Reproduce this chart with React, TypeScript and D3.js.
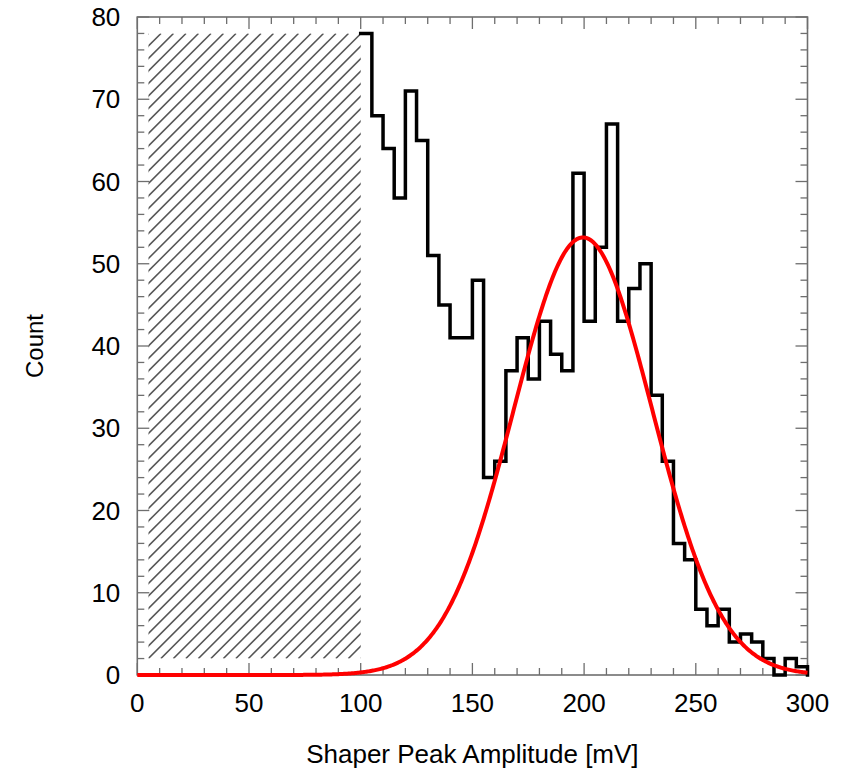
import React from "react";
import * as d3 from "d3";

// ---- data ----
const binEdgesStart = 100;
const binWidth = 5;
const binCounts = [
  78, 68, 64, 58, 71, 65, 51, 45, 41, 41,
  48, 24, 26, 37, 41, 36, 43, 39, 37, 61,
  43, 52, 67, 43, 47, 50, 34, 26, 16, 14,
  8, 6, 8, 4, 5, 4, 2, 0, 2, 1,
];
const fitAmplitude = 53.2;
const fitMean = 199.5;
const fitSigma = 31;
const xTicks = [0, 50, 100, 150, 200, 250, 300];
const yTicks = [0, 10, 20, 30, 40, 50, 60, 70, 80];
const hatchX = [5, 100];
const hatchY = [2, 78];

const W = 841;
const H = 770;
const margin = { left: 137.3, right: 841 - 807.5, top: 17, bottom: 770 - 675 };

export default function App() {
  const x = d3.scaleLinear().domain([0, 300]).range([margin.left, W - margin.right]);
  const y = d3.scaleLinear().domain([0, 80]).range([H - margin.bottom, margin.top]);

  // histogram step path
  const pts: [number, number][] = [];
  binCounts.forEach((c, i) => {
    const x0 = binEdgesStart + i * binWidth;
    pts.push([x0, c]);
    pts.push([x0 + binWidth, c]);
  });
  pts.push([binEdgesStart + binCounts.length * binWidth, 0]);
  const histPath = d3
    .line<[number, number]>()
    .x((d) => x(d[0]))
    .y((d) => y(d[1]))(pts);

  // fit curve
  const fitX = d3.range(0, 300.01, 0.5);
  const fitPath = d3
    .line<number>()
    .x((d) => x(d))
    .y((d) => y(fitAmplitude * Math.exp(-((d - fitMean) ** 2) / (2 * fitSigma * fitSigma))))(fitX);

  // hatch
  const hx0 = x(hatchX[0]);
  const hx1 = x(hatchX[1]);
  const hy0 = y(hatchY[1]);
  const hy1 = y(hatchY[0]);
  const spacing = 12.5;
  const hatchLines: [number, number, number, number][] = [];
  const hH = hy1 - hy0;
  for (let s = hx0 - hH; s < hx1 + spacing; s += spacing) {
    hatchLines.push([s, hy1, s + hH, hy0]);
  }

  const axisColor = "#6e6e6e";
  const font = "Liberation Sans, Arial, sans-serif";
  const majorLen = 12;
  const minorLen = 7;
  const xMinor = d3.range(0, 301, 10);
  const yMinor = d3.range(0, 81, 2);
  const left = x(0), right = x(300), top = y(80), bottom = y(0);

  return (
    <svg width={W} height={H} style={{ position: "absolute", left: 0, top: 0 }} fontFamily={font}>
      <rect x={0} y={0} width={W} height={H} fill="#fff" />
      <defs>
        <clipPath id="hatchClip">
          <rect x={hx0} y={hy0} width={hx1 - hx0} height={hy1 - hy0} />
        </clipPath>
      </defs>
      <g clipPath="url(#hatchClip)">
        {hatchLines.map((l, i) => (
          <line key={i} x1={l[0]} y1={l[1]} x2={l[2]} y2={l[3]} stroke="#555" strokeWidth={1.5} />
        ))}
      </g>
      {/* ticks */}
      <g stroke={axisColor} strokeWidth={1.3}>
        {xMinor.map((v) => {
          const len = v % 50 === 0 ? majorLen : minorLen;
          return (
            <g key={"x" + v}>
              <line x1={x(v)} x2={x(v)} y1={bottom} y2={bottom - len} />
              <line x1={x(v)} x2={x(v)} y1={top} y2={top + len} />
            </g>
          );
        })}
        {yMinor.map((v) => {
          const len = v % 10 === 0 ? majorLen : minorLen;
          return (
            <g key={"y" + v}>
              <line x1={left} x2={left + len} y1={y(v)} y2={y(v)} />
              <line x1={right} x2={right - len} y1={y(v)} y2={y(v)} />
            </g>
          );
        })}
      </g>
      <rect x={left} y={top} width={right - left} height={bottom - top} fill="none" stroke={axisColor} strokeWidth={1.6} />
      <path d={histPath ?? ""} fill="none" stroke="#000" strokeWidth={3.5} strokeLinejoin="miter" strokeLinecap="square" />
      <path d={fitPath ?? ""} fill="none" stroke="#ff0000" strokeWidth={4} />
      {/* tick labels */}
      <g fontSize={26} fill="#000">
        {xTicks.map((v) => (
          <text key={"xl" + v} x={x(v)} y={bottom + 37} textAnchor="middle">
            {v}
          </text>
        ))}
        {yTicks.map((v) => (
          <text key={"yl" + v} x={left - 17} y={y(v) + 9} textAnchor="end">
            {v}
          </text>
        ))}
      </g>
      <text x={(left + right) / 2} y={763} textAnchor="middle" fontSize={26}>
        Shaper Peak Amplitude [mV]
      </text>
      <text transform={`translate(43,${(top + bottom) / 2}) rotate(-90)`} textAnchor="middle" fontSize={24}>
        Count
      </text>
    </svg>
  );
}
